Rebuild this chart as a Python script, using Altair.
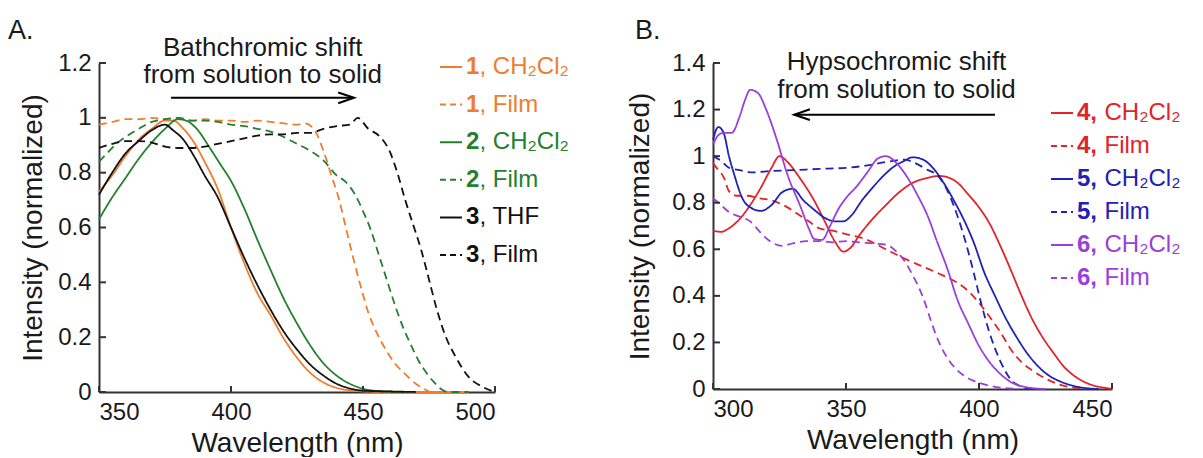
import altair as alt
import pandas as pd

FONT = "Liberation Sans"
AXIS_COLOR = "#333333"
TEXT_COLOR = "#1a1a1a"

# ---------------- Panel A data ----------------
A_X_TICKS = [350, 400, 450, 500]
A_Y_TICKS = [0, 0.2, 0.4, 0.6, 0.8, 1.0, 1.2]

a1_sol_nm = [350, 355, 360, 365, 370, 375, 378, 382, 386, 390, 395, 400, 405, 410, 415, 420, 425, 430, 435, 440, 445, 450, 460, 490]
a1_sol_v = [0.73, 0.79, 0.86, 0.92, 0.96, 0.99, 0.99, 0.96, 0.91, 0.84, 0.74, 0.60, 0.47, 0.36, 0.28, 0.195, 0.125, 0.07, 0.035, 0.015, 0.006, 0.002, 0.0, 0.0]

a1_film_nm = [350, 355, 360, 365, 370, 375, 380, 385, 390, 395, 400, 405, 410, 415, 420, 425, 428, 432, 435, 438, 441, 443, 446, 449, 452, 455, 458, 462, 466, 470, 473, 476, 490]
a1_film_v = [0.975, 0.985, 0.995, 0.995, 1.0, 0.995, 1.0, 0.99, 0.995, 0.99, 0.99, 0.985, 0.99, 0.985, 0.98, 0.975, 0.98, 0.95, 0.88, 0.79, 0.70, 0.62, 0.50, 0.39, 0.29, 0.22, 0.165, 0.105, 0.065, 0.03, 0.012, 0.0, 0.0]

a2_sol_nm = [350, 355, 360, 365, 370, 375, 380, 383, 387, 392, 396, 400, 405, 410, 415, 420, 425, 430, 435, 440, 445, 450, 455, 465]
a2_sol_v = [0.63, 0.71, 0.78, 0.85, 0.91, 0.96, 0.995, 0.99, 0.96, 0.89, 0.83, 0.77, 0.67, 0.555, 0.445, 0.34, 0.25, 0.17, 0.105, 0.06, 0.03, 0.012, 0.004, 0.0]

a2_film_nm = [350, 353, 356, 360, 365, 370, 375, 380, 385, 390, 395, 400, 405, 410, 415, 420, 425, 430, 435, 440, 443, 447, 450, 453, 456, 459, 462, 465, 468, 471, 474, 477, 480, 482, 490]
a2_film_v = [0.84, 0.87, 0.90, 0.93, 0.96, 0.985, 0.995, 1.0, 0.99, 0.99, 0.985, 0.975, 0.97, 0.96, 0.95, 0.93, 0.905, 0.88, 0.845, 0.79, 0.77, 0.72, 0.66, 0.59, 0.50, 0.41, 0.32, 0.24, 0.175, 0.115, 0.07, 0.035, 0.008, 0.0, 0.0]

a3_thf_nm = [350, 355, 360, 365, 370, 375, 378, 382, 386, 390, 395, 400, 405, 410, 415, 420, 425, 430, 435, 440, 445, 450, 460, 470]
a3_thf_v = [0.72, 0.80, 0.87, 0.915, 0.955, 0.975, 0.955, 0.92, 0.86, 0.79, 0.71, 0.60, 0.49, 0.39, 0.30, 0.22, 0.155, 0.10, 0.06, 0.03, 0.013, 0.005, 0.002, 0.0]

a3_film_nm = [350, 355, 360, 365, 370, 375, 380, 385, 390, 395, 400, 405, 410, 415, 420, 425, 430, 435, 440, 445, 448, 452, 456, 460, 463, 466, 469, 472, 475, 478, 481, 485, 490, 495, 500]
a3_film_v = [0.89, 0.905, 0.915, 0.915, 0.91, 0.895, 0.89, 0.89, 0.895, 0.905, 0.915, 0.925, 0.935, 0.94, 0.94, 0.945, 0.945, 0.96, 0.97, 0.975, 1.0, 0.96, 0.935, 0.88, 0.80, 0.70, 0.61, 0.52, 0.41, 0.30, 0.21, 0.13, 0.055, 0.02, 0.0]

A_NUMS = ["1", "1", "2", "2", "3", "3"]
A_RESTS = [", CH\u2082Cl\u2082", ", Film", ", CH\u2082Cl\u2082", ", Film", ", THF", ", Film"]
A_COLORS = ["#EF7D2D", "#EF7D2D", "#23802F", "#23802F", "#111111", "#111111"]
A_STYLES = ["solid", "dashed", "solid", "dashed", "solid", "dashed"]
A_DATA = [(a1_sol_nm, a1_sol_v), (a1_film_nm, a1_film_v), (a2_sol_nm, a2_sol_v),
          (a2_film_nm, a2_film_v), (a3_thf_nm, a3_thf_v), (a3_film_nm, a3_film_v)]
A_ANN = ["Bathchromic shift", "from solution to solid"]

# ---------------- Panel B data ----------------
B_X_TICKS = [300, 350, 400, 450]
B_Y_TICKS = [0, 0.2, 0.4, 0.6, 0.8, 1.0, 1.2, 1.4]

b4_sol_nm = [300, 303, 306, 310, 314, 318, 322, 325, 328, 333, 338, 342, 346, 349, 352, 355, 360, 365, 370, 375, 380, 385, 388, 392, 396, 400, 404, 408, 412, 416, 420, 424, 428, 432, 436, 440, 444, 448, 450]
b4_sol_v = [0.68, 0.675, 0.69, 0.73, 0.79, 0.865, 0.95, 1.0, 0.975, 0.90, 0.81, 0.72, 0.63, 0.59, 0.61, 0.66, 0.73, 0.79, 0.845, 0.885, 0.905, 0.915, 0.91, 0.885, 0.835, 0.78, 0.71, 0.615, 0.51, 0.40, 0.30, 0.22, 0.155, 0.095, 0.055, 0.028, 0.012, 0.004, 0.0]

b4_film_nm = [300, 302, 304, 306, 309, 313, 317, 322, 328, 332, 336, 340, 345, 350, 357, 365, 372, 379, 386, 392, 396, 400, 404, 408, 412, 416, 420, 425, 430, 435, 440]
b4_film_v = [0.97, 0.94, 0.91, 0.85, 0.83, 0.83, 0.82, 0.81, 0.78, 0.75, 0.72, 0.69, 0.68, 0.665, 0.645, 0.60, 0.56, 0.525, 0.49, 0.455, 0.42, 0.37, 0.31, 0.245, 0.17, 0.115, 0.08, 0.045, 0.02, 0.007, 0.0]

b5_sol_nm = [300, 302, 304, 306, 308, 311, 314, 318, 322, 326, 330, 334, 338, 342, 346, 349, 352, 356, 360, 364, 368, 372, 375, 379, 383, 387, 391, 395, 398, 402, 406, 410, 414, 418, 422, 426, 430, 435, 440, 445]
b5_sol_v = [1.07, 1.125, 1.10, 1.0, 0.92, 0.82, 0.78, 0.765, 0.79, 0.845, 0.86, 0.81, 0.77, 0.735, 0.72, 0.72, 0.745, 0.81, 0.865, 0.915, 0.955, 0.98, 0.995, 0.985, 0.945, 0.88, 0.80, 0.71, 0.63, 0.50, 0.40, 0.305, 0.225, 0.155, 0.10, 0.06, 0.035, 0.015, 0.004, 0.0]

b5_film_nm = [300, 303, 306, 310, 315, 320, 330, 340, 350, 358, 365, 372, 376, 380, 385, 389, 392, 395, 398, 401, 404, 408, 412, 416, 420]
b5_film_v = [1.0, 0.98, 0.95, 0.94, 0.93, 0.935, 0.94, 0.945, 0.95, 0.96, 0.975, 0.985, 0.97, 0.945, 0.91, 0.83, 0.74, 0.63, 0.50, 0.36, 0.24, 0.12, 0.04, 0.01, 0.0]

b6_sol_nm = [300, 302, 304, 307, 310, 312, 314, 317, 320, 324, 328, 333, 336, 338, 341, 344, 347, 350, 354, 358, 362, 365, 369, 373, 377, 381, 384, 388, 392, 396, 400, 404, 408, 412, 416, 420, 425]
b6_sol_v = [1.05, 1.09, 1.10, 1.10, 1.17, 1.24, 1.285, 1.27, 1.20, 1.07, 0.92, 0.78, 0.69, 0.645, 0.64, 0.70, 0.77, 0.82, 0.87, 0.93, 0.99, 1.0, 0.97, 0.91, 0.83, 0.735, 0.64, 0.52, 0.38, 0.28, 0.185, 0.115, 0.065, 0.03, 0.012, 0.004, 0.0]

b6_film_nm = [300, 303, 306, 310, 314, 318, 322, 326, 330, 335, 340, 345, 350, 355, 360, 365, 369, 372, 375, 378, 380, 382, 385, 388, 391, 394, 398, 402, 408, 415]
b6_film_v = [0.82, 0.79, 0.76, 0.74, 0.72, 0.67, 0.63, 0.615, 0.625, 0.635, 0.635, 0.63, 0.635, 0.63, 0.625, 0.62, 0.59, 0.55, 0.49, 0.42, 0.36, 0.29, 0.20, 0.135, 0.09, 0.06, 0.035, 0.02, 0.006, 0.0]

B_NUMS = ["4,", "4,", "5,", "5,", "6,", "6,"]
B_RESTS = ["CH\u2082Cl\u2082", "Film", "CH\u2082Cl\u2082", "Film", "CH\u2082Cl\u2082", "Film"]
B_COLORS = ["#E3232A", "#E3232A", "#1F22B4", "#1F22B4", "#9B3FDC", "#9B3FDC"]
B_STYLES = ["solid", "dashed", "solid", "dashed", "solid", "dashed"]
B_DATA = [(b4_sol_nm, b4_sol_v), (b4_film_nm, b4_film_v), (b5_sol_nm, b5_sol_v),
          (b5_film_nm, b5_film_v), (b6_sol_nm, b6_sol_v), (b6_film_nm, b6_film_v)]
B_ANN = ["Hypsochromic shift", "from solution to solid"]

DASH = [8, 5]


def make_panel(letter, nums, rests, colors, styles, data, xdom, ydom, xticks, yticks,
               W, H, ann, ann_nm, ann_v, arrow_nm, arrow_v, arrow_dir,
               leg_x, leg_y0, leg_dy, bold_w, letter_dx, ytitle_pad):
    keys = [f"{letter}{i}" for i in range(len(nums))]
    rows = []
    for k, st, (xs, vs) in zip(keys, styles, data):
        for x, v in zip(xs, vs):
            rows.append({"series": k, "nm": x, "v": v, "style": st})
    df = pd.DataFrame(rows)

    x_enc = alt.X("nm:Q", scale=alt.Scale(domain=xdom, nice=False),
                  axis=alt.Axis(values=xticks, format="d", title="Wavelength (nm)",
                                titlePadding=5))
    y_enc = alt.Y("v:Q", scale=alt.Scale(domain=ydom, nice=False),
                  axis=alt.Axis(values=yticks, format="~g", title="Intensity (normalized)",
                                titlePadding=ytitle_pad))

    layers = []
    lines = alt.Chart(df).mark_line(strokeWidth=1.8, interpolate="monotone").encode(
        x=x_enc, y=y_enc,
        color=alt.Color("series:N", scale=alt.Scale(domain=keys, range=colors), legend=None),
        strokeDash=alt.StrokeDash("style:N", scale=alt.Scale(domain=["solid", "dashed"], range=[[1, 0], DASH]), legend=None),
    )
    layers.append(lines)

    # inward ticks
    ytick_df = pd.DataFrame({"v": yticks})
    layers.append(alt.Chart(ytick_df).mark_rule(color=AXIS_COLOR, strokeWidth=2).encode(
        y=y_enc, x=alt.value(0), x2=alt.value(7)))
    xtick_df = pd.DataFrame({"nm": xticks})
    layers.append(alt.Chart(xtick_df).mark_rule(color=AXIS_COLOR, strokeWidth=2).encode(
        x=x_enc, y=alt.value(H), y2=alt.value(H - 6)))

    # annotation text
    ann_df = pd.DataFrame({"nm": [ann_nm, ann_nm], "v": ann_v, "text": ann})
    layers.append(alt.Chart(ann_df).mark_text(font=FONT, fontSize=26, color=TEXT_COLOR,
                                              align="center", baseline="middle").encode(
        x=x_enc, y=y_enc, text="text:N"))

    # arrow
    arr_df = pd.DataFrame({"nm": [arrow_nm[0]], "nm2": [arrow_nm[1]], "v": [arrow_v]})
    layers.append(alt.Chart(arr_df).mark_rule(color="#000000", strokeWidth=2).encode(
        x=x_enc, x2="nm2:Q", y=y_enc))
    head_nm = arrow_nm[1] if arrow_dir > 0 else arrow_nm[0]
    shape = "M-1,-0.34L0,0L-1,0.34" if arrow_dir > 0 else "M1,-0.34L0,0L1,0.34"
    head_df = pd.DataFrame({"nm": [head_nm], "v": [arrow_v]})
    layers.append(alt.Chart(head_df).mark_point(shape=shape, size=1000, filled=False,
                                                color="#000000", strokeWidth=2, opacity=1).encode(
        x=x_enc, y=y_enc))

    # panel letter
    layers.append(alt.Chart(pd.DataFrame({"t": [letter]})).mark_text(
        font=FONT, fontSize=27, color=TEXT_COLOR, align="left", baseline="alphabetic").encode(
        x=alt.value(letter_dx), y=alt.value(-24), text="t:N"))

    # legend
    for i in range(len(nums)):
        yy = leg_y0 + i * leg_dy
        one = pd.DataFrame({"num": [nums[i]], "rest": [rests[i]]})
        dash = [1, 0] if styles[i] == "solid" else [6, 4]
        layers.append(alt.Chart(one).mark_rule(color=colors[i], strokeWidth=2, strokeDash=dash).encode(
            x=alt.value(leg_x), x2=alt.value(leg_x + 22), y=alt.value(yy)))
        layers.append(alt.Chart(one).mark_text(font=FONT, fontSize=24, fontWeight="bold", color=colors[i],
                                               align="left", baseline="middle").encode(
            x=alt.value(leg_x + 26), y=alt.value(yy), text="num:N"))
        layers.append(alt.Chart(one).mark_text(font=FONT, fontSize=24, color=colors[i],
                                               align="left", baseline="middle").encode(
            x=alt.value(leg_x + 26 + bold_w), y=alt.value(yy), text="rest:N"))

    return alt.layer(*layers).properties(width=W, height=H)


panel_a = make_panel("A.", A_NUMS, A_RESTS, A_COLORS, A_STYLES, A_DATA,
                     [350, 500], [0, 1.2], A_X_TICKS, A_Y_TICKS, 396, 329,
                     A_ANN, 412, [1.255, 1.156], (377.3, 446.6), 1.073, 1,
                     341, 4, 37.6, 13.5, -91, 10)

panel_b = make_panel("B.", B_NUMS, B_RESTS, B_COLORS, B_STYLES, B_DATA,
                     [300, 450], [0, 1.4], B_X_TICKS, B_Y_TICKS, 399, 326,
                     B_ANN, 369, [1.405, 1.282], (330.5, 406), 1.178, -1,
                     338, 50, 33, 27.5, -78, 17)

chart = alt.hconcat(panel_a, panel_b, spacing=57).resolve_scale(
    color="independent", strokeDash="independent"
).properties(
    padding={"left": 8, "top": 17, "right": 0, "bottom": 0},
    background="white",
).configure_view(stroke=None).configure_axis(
    grid=False, ticks=False, domainColor=AXIS_COLOR, domainWidth=2,
    labelFont=FONT, labelFontSize=24, labelColor=TEXT_COLOR, labelPadding=8,
    titleFont=FONT, titleFontSize=28, titleFontWeight="normal", titleColor=TEXT_COLOR,
)

chart.save("out.html", embed_options={"renderer": "svg", "actions": False})
